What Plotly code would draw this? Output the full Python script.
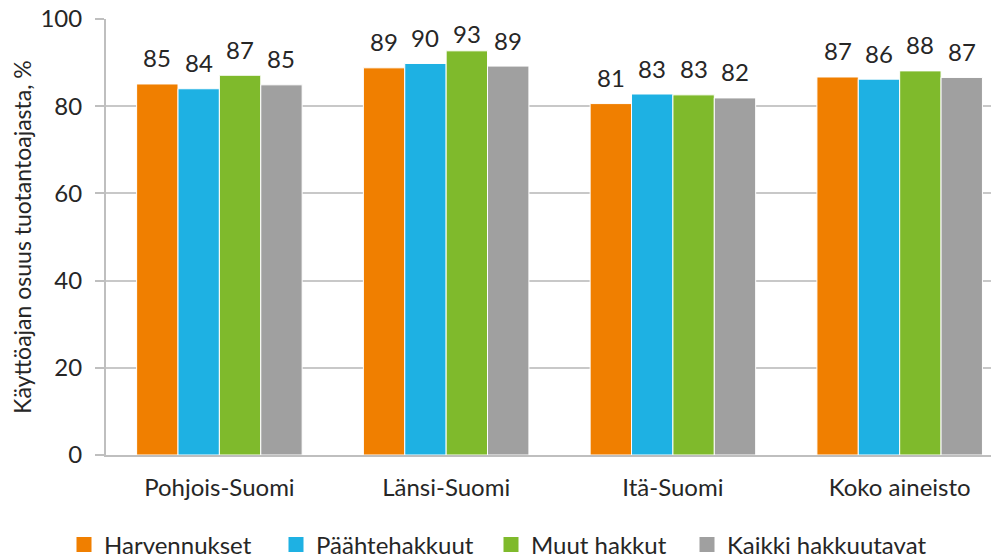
import plotly.graph_objects as go

categories = ["Pohjois-Suomi", "Länsi-Suomi", "Itä-Suomi", "Koko aineisto"]
series_names = ["Harvennukset", "Päähtehakkuut", "Muut hakkut", "Kaikki hakkuutavat"]
harvennukset = [85.1, 88.8, 80.6, 86.7]
paahtehakkuut = [84.0, 89.8, 82.8, 86.2]
muut_hakkut = [87.1, 92.7, 82.6, 88.1]
kaikki = [84.9, 89.2, 81.9, 86.6]
y_ticks = [0, 20, 40, 60, 80, 100]

values = [harvennukset, paahtehakkuut, muut_hakkut, kaikki]
colors = ["#F07F00", "#1EB1E3", "#7FBA2C", "#A0A0A0"]

FONT = "Lato, 'Noto Sans', sans-serif"
TXT = "#262626"

# the page body has an 8px default margin: size the figure to the visible area
PAGE_OFF = 8
W, H = 999 - PAGE_OFF, 560 - PAGE_OFF
ML, MR, MT, MB = 106 - PAGE_OFF, 0, 19 - PAGE_OFF, 105
legend_left_px = [64 - PAGE_OFF, 276 - PAGE_OFF, 491 - PAGE_OFF, 687 - PAGE_OFF]
legend_mid_px = 545 - PAGE_OFF

X_RANGE = [-0.5, 3.438]
Y_RANGE = [0, 100.001]
BARGAP = 0.27
plot_w = W - ML - MR
plot_h = H - MT - MB
px_per_cat = plot_w / (X_RANGE[1] - X_RANGE[0])
px_per_unit = plot_h / (Y_RANGE[1] - Y_RANGE[0])
bar_w = px_per_cat * (1 - BARGAP) / len(values)

fig = go.Figure()
for name, vals, col in zip(series_names, values, colors):
    fig.add_trace(go.Bar(
        x=categories, y=vals, name=name,
        marker=dict(color=col, line=dict(color="white", width=1)),
        showlegend=False, hoverinfo="x+y",
    ))

legend_layouts = {}
for k, (name, col, lx) in enumerate(zip(series_names, colors, legend_left_px)):
    lname = "legend" if k == 0 else f"legend{k + 1}"
    fig.add_trace(go.Scatter(
        x=[None], y=[None], mode="markers", name=name, legend=lname,
        marker=dict(symbol="square", size=15, color=col),
    ))
    legend_layouts[lname] = dict(
        xref="container", yref="container", x=lx / W, xanchor="left",
        y=(H - legend_mid_px) / H, yanchor="middle", orientation="h",
        font=dict(size=24, color=TXT, family=FONT), itemwidth=30,
        bgcolor="rgba(0,0,0,0)",
    )

# data labels above bars
annotations = []
for i, vals in enumerate(values):
    xs = (i - (len(values) - 1) / 2) * bar_w
    for cat, v in zip(categories, vals):
        room = (100 - v) * px_per_unit - 14.5
        annotations.append(dict(
            x=cat, y=v, xref="x", yref="y", text=f"{v:.0f}", showarrow=False,
            xshift=xs, yshift=min(26, room), yanchor="middle", xanchor="center",
            font=dict(size=24, color=TXT, family=FONT),
        ))

fig.update_layout(
    width=W, height=H,
    margin=dict(l=ML, r=MR, t=MT, b=MB, autoexpand=False),
    paper_bgcolor="white", plot_bgcolor="white",
    barmode="group", bargap=BARGAP, bargroupgap=0,
    font=dict(family=FONT, size=24, color=TXT),
    showlegend=True,
    annotations=annotations,
    xaxis=dict(range=X_RANGE, showline=True, linecolor="#BFBFBF", linewidth=2,
               tickfont=dict(size=24, color=TXT), ticks="", showgrid=False,
               automargin=False, ticklabelstandoff=10, ticklabeloverflow="allow"),
    yaxis=dict(range=Y_RANGE, tickvals=y_ticks, showgrid=True, gridcolor="#C8C8C8",
               gridwidth=2, showline=True, linecolor="#BFBFBF", linewidth=2,
               ticks="outside", ticklen=9, tickcolor="#BFBFBF", tickwidth=2,
               tickfont=dict(size=24, color=TXT), zeroline=False,
               automargin=False, ticklabelstandoff=8, ticklabeloverflow="allow",
               title=dict(text="Käyttöajan osuus tuotantoajasta, %",
                          font=dict(size=23, color=TXT), standoff=16)),
    **legend_layouts,
)

fig.write_html("out.html")
